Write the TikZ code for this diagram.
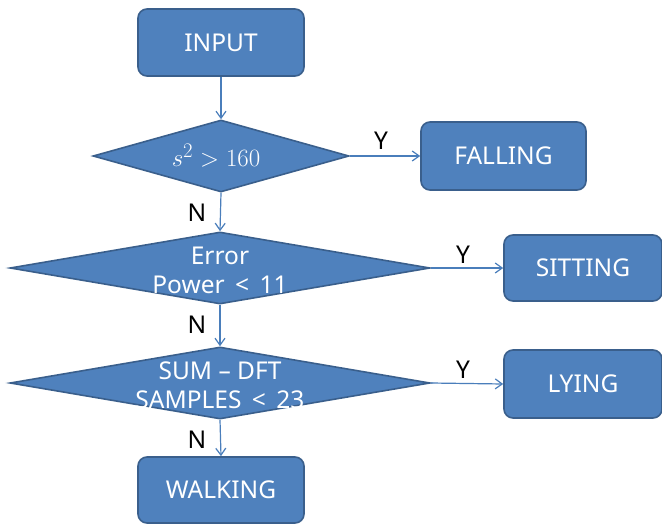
\documentclass[tikz,border=0pt]{standalone}
\usepackage{fontspec}
\setmainfont{Noto Sans}
\usetikzlibrary{shapes.geometric,arrows.meta}
\definecolor{boxfill}{HTML}{4F81BD}
\definecolor{boxline}{HTML}{3A5F8C}
\definecolor{arrowc}{HTML}{4A7EBB}
\tikzset{
  every node/.style={font=\fontsize{24.5}{29}\selectfont},
  rbox/.style={draw=boxline, line width=1.6pt, fill=boxfill, rounded corners=9pt, text=white, inner sep=0pt},
  dbox/.style={draw=boxline, line width=1.6pt, fill=boxfill, diamond, inner sep=0pt},
  dtext/.style={text=white, align=center, inner sep=0pt},
  conn/.style={draw=arrowc, line width=1.2pt, -{Straight Barb[length=7pt,width=10pt,line width=1.2pt]}},
  lab/.style={text=black, inner sep=0pt}
}
\begin{document}
\begin{tikzpicture}[x=1pt,y=-1pt]
\useasboundingbox (0,0) rectangle (662,525);
\node[rbox, minimum width=166, minimum height=67] (input) at (221,42.5) {INPUT};
\node[dbox, minimum width=256, minimum height=72] (d1) at (221,156) {};
\node[dtext, font=\fontsize{28}{32}\selectfont] (t1) at (216,156) {$s^2 > 160$};
\node[rbox, minimum width=165, minimum height=68] (fall) at (503.5,156) {FALLING};
\node[dbox, minimum width=420, minimum height=72] (d2) at (220,268) {};
\node[dtext] (t2) at (220,270) {Error\\Power \,<\, 11};
\node[rbox, minimum width=158, minimum height=66] (sit) at (583,268) {SITTING};
\node[dbox, minimum width=420, minimum height=72] (d3) at (220,383) {};
\node[dtext] (t3) at (220,385) {SUM -- DFT\\SAMPLES \,<\, 23};
\node[rbox, minimum width=158, minimum height=68] (lying) at (583,384) {LYING};
\node[rbox, minimum width=166, minimum height=66] (walk) at (221,490) {WALKING};
\draw[conn] (input.south) -- (d1.north);
\draw[conn] (d1.east) -- (fall.west);
\draw[conn] (d1.south) -- (d2.north);
\draw[conn] (d2.east) -- (sit.west);
\draw[conn] (d2.south) -- (d3.north);
\draw[conn] (d3.east) -- (lying.west);
\draw[conn] (d3.south) -- (walk.north);
\node[lab] (y1) at (381,141) {Y};
\node[lab] (y2) at (463,255) {Y};
\node[lab] (y3) at (463,370) {Y};
\node[lab] (n1) at (197,213) {N};
\node[lab] (n2) at (197,325) {N};
\node[lab] (n3) at (197,440) {N};
\end{tikzpicture}
\end{document}
